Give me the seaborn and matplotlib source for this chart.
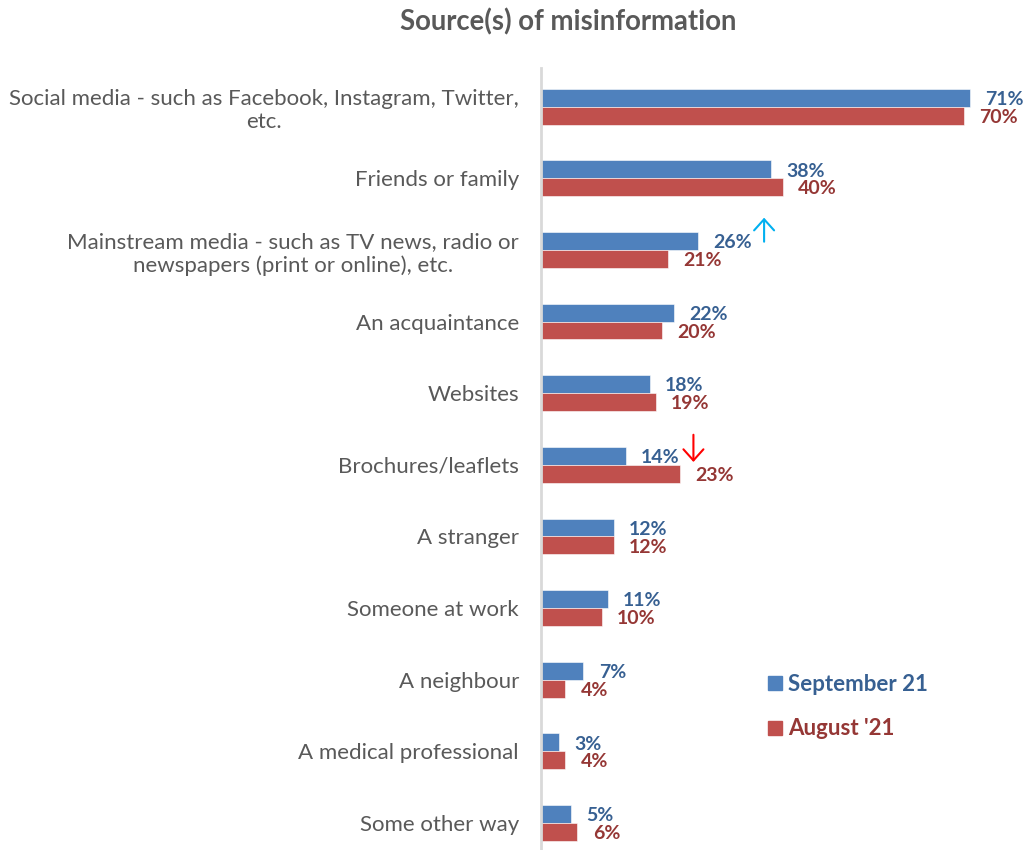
import matplotlib
matplotlib.use("Agg")
import matplotlib.pyplot as plt
import matplotlib.transforms as mtransforms
import seaborn as sns
import pandas as pd
from matplotlib.lines import Line2D

categories = [
    "Social media - such as Facebook, Instagram, Twitter,\netc.",
    "Friends or family",
    "Mainstream media - such as TV news, radio or\nnewspapers (print or online), etc.",
    "An acquaintance",
    "Websites",
    "Brochures/leaflets",
    "A stranger",
    "Someone at work",
    "A neighbour",
    "A medical professional",
    "Some other way",
]
september = [71, 38, 26, 22, 18, 14, 12, 11, 7, 3, 5]
august = [70, 40, 21, 20, 19, 23, 12, 10, 4, 4, 6]
series_names = ["September 21", "August '21"]

bar_colors = ["#4F81BD", "#C0504D"]
label_colors = ["#376092", "#953735"]
text_gray = "#595959"

df = pd.DataFrame({
    "category": categories * 2,
    "value": september + august,
    "series": [series_names[0]] * len(categories) + [series_names[1]] * len(categories),
})

sns.set_theme(style="white")
plt.rcParams["font.family"] = ["Lato", "DejaVu Sans"]

fig = plt.figure(figsize=(10.25, 8.5), dpi=100)
ax = fig.add_axes([0.528, 0.0, 0.442, 1 - 68 / 850])

sns.barplot(data=df, y="category", x="value", hue="series", order=categories,
            hue_order=series_names, palette=bar_colors, saturation=1, orient="h",
            width=0.5, edgecolor="white", linewidth=0.4, legend=False, ax=ax)

ax.set_xlim(0, 75)
ax.set_ylim(10.377, -0.54)
ax.set_xlabel("")
ax.set_ylabel("")
ax.set_xticks([])
ax.tick_params(axis="y", length=0, labelsize=16, labelcolor=text_gray)

for side in ["top", "right", "bottom"]:
    ax.spines[side].set_visible(False)
ax.spines["left"].set_color("#D9D9D9")
ax.spines["left"].set_linewidth(2)

# category labels: right-aligned block, wrapped lines centred on each other
label_trans = mtransforms.blended_transform_factory(fig.transFigure, ax.transData)
for lbl in ax.get_yticklabels():
    lbl.set_transform(label_trans)
    lbl.set_x(519 / 1025)
    lbl.set_horizontalalignment("right")
    lbl.set_multialignment("center")

# value labels next to each bar
for container, color in zip(ax.containers, label_colors):
    for bar in container:
        w = bar.get_width()
        yc = bar.get_y() + bar.get_height() / 2
        ax.annotate(f"{w:.0f}%", xy=(w, yc), xytext=(11, -1.2), textcoords="offset points",
                    ha="left", va="center", fontsize=14, fontweight="bold", color=color)

# change markers
arrow_style = "->,head_length=0.4,head_width=0.36"
ax.annotate("", xy=(36.9, 1.55), xytext=(36.9, 1.885),
            arrowprops=dict(arrowstyle=arrow_style, color="#00B0F0", lw=1.5,
                            mutation_scale=20, shrinkA=0, shrinkB=0))
ax.annotate("", xy=(25.2, 4.96), xytext=(25.2, 4.58),
            arrowprops=dict(arrowstyle=arrow_style, color="#FF0000", lw=1.5,
                            mutation_scale=20, shrinkA=0, shrinkB=0))

fig.text(568 / 1025, 1 - 22 / 850, "Source(s) of misinformation", ha="center", va="center",
         fontsize=19.8, fontweight="bold", color=text_gray)

handles = [Line2D([0], [0], marker="s", linestyle="none", markersize=10,
                  markerfacecolor=c, markeredgecolor=c) for c in bar_colors]
leg = fig.legend(handles, series_names, loc="upper left",
                 bbox_to_anchor=(744 / 1025, 1 - 654 / 850),
                 frameon=False, handletextpad=0.1, labelspacing=1.05, handlelength=1.0,
                 prop={"size": 16, "weight": "bold"})
for t, c in zip(leg.get_texts(), label_colors):
    t.set_color(c)

fig.savefig("out.png", dpi=100)
